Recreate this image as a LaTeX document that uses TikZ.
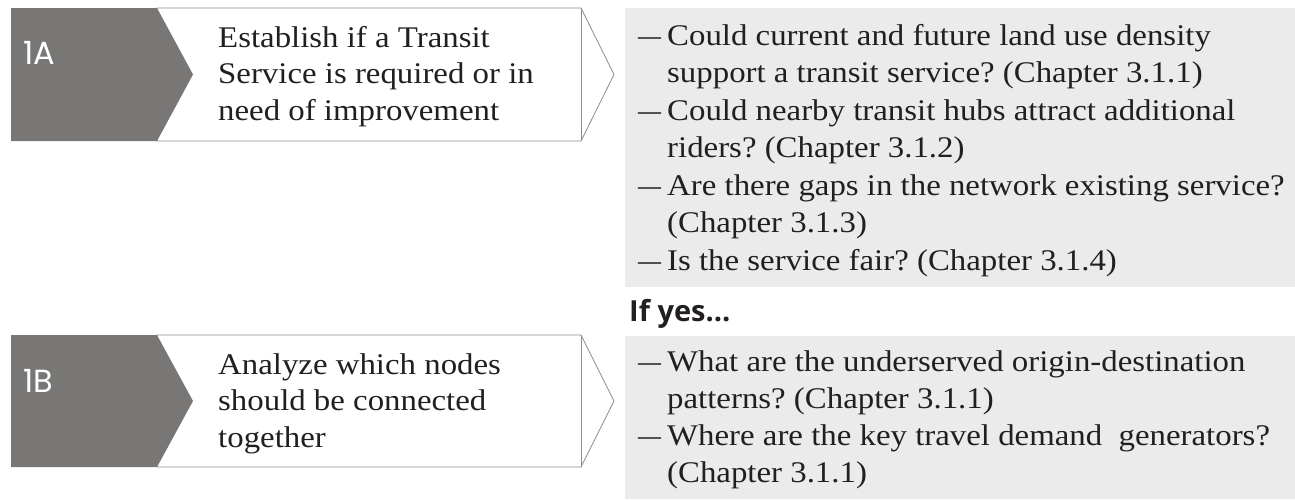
\documentclass[tikz,border=0pt]{standalone}
\usepackage{fontspec}
\usepackage{graphicx}
\setmainfont{Liberation Serif}[FakeStretch=1.095]
\newfontfamily\lblfont{Poppins}
\newfontfamily\yesfont{Open Sans}
\definecolor{darkbox}{HTML}{797775}
\definecolor{panel}{HTML}{EBEBEB}
\definecolor{outline}{HTML}{8C8C8C}
\definecolor{ink}{HTML}{231F20}
\frenchspacing
\newcommand{\qdash}{\makebox[29pt][l]{\scalebox{0.7}[1]{—}}}
\tikzset{
  txt/.style={inner sep=0pt, anchor=base west, text=ink, font=\fontsize{30}{37.5}\selectfont},
  lbl/.style={inner sep=0pt, anchor=base west, text=white, font=\lblfont\fontsize{32}{38}\selectfont},
  yes/.style={inner sep=0pt, anchor=base west, text=ink, font=\yesfont\bfseries\fontsize{29}{36}\selectfont},
  whitearrow/.style={fill=white, draw=outline, line width=0.8pt},
  darkarrow/.style={fill=darkbox, draw=none},
  panelbox/.style={fill=panel, draw=none}
}
\begin{document}
\begin{tikzpicture}[x=1pt,y=-1pt]
\useasboundingbox (0,0) rectangle (1295,499);
% panels
\fill[panelbox] (625,8) rectangle (1295,287);
\fill[panelbox] (625,336) rectangle (1295,499);
% step A
\draw[whitearrow] (157,8) -- (581,8) -- (614,74.5) -- (581,141) -- (157,141) -- cycle;
\draw[outline, line width=0.8pt] (581,8) -- (581,141);
\fill[darkarrow] (11,8) -- (157,8) -- (193,74.5) -- (157,141) -- (11,141) -- cycle;
% step B
\draw[whitearrow] (157,335) -- (581,335) -- (614,401) -- (581,467) -- (157,467) -- cycle;
\draw[outline, line width=0.8pt] (581,335) -- (581,467);
\fill[darkarrow] (11,335) -- (157,335) -- (193,401) -- (157,467) -- (11,467) -- cycle;
% labels
\node[lbl] (la) at (23,64) {1A};
\node[lbl] (lb) at (23,392) {1B};
\node[txt] (a1) at (218,47) {Establish if a Transit};
\node[txt] (a2) at (218,83.5) {Service is required or in};
\node[txt] (a3) at (218,120) {need of improvement};
\node[txt] (b1) at (218,374) {Analyze which nodes};
\node[txt] (b2) at (218,410.5) {should be connected};
\node[txt] (b3) at (218,447) {together};
% panel 1
\node[txt] (p1) at (638,45) {\qdash Could current and future land use density};
\node[txt] (p2) at (667,82.5) {support a transit service? (Chapter 3.1.1)};
\node[txt] (p3) at (638,120) {\qdash Could nearby transit hubs attract additional};
\node[txt] (p4) at (667,157.5) {riders? (Chapter 3.1.2)};
\node[txt] (p5) at (638,195) {\qdash Are there gaps in the network existing service?};
\node[txt] (p6) at (667,232.5) {(Chapter 3.1.3)};
\node[txt] (p7) at (638,270) {\qdash Is the service fair? (Chapter 3.1.4)};
% if yes
\node[yes] (y) at (629,321) {If yes…};
% panel 2
\node[txt] (q1) at (638,371) {\qdash What are the underserved origin-destination};
\node[txt] (q2) at (667,408) {patterns? (Chapter 3.1.1)};
\node[txt] (q3) at (638,445) {\qdash Where are the key travel demand\ \ generators?};
\node[txt] (q4) at (667,482) {(Chapter 3.1.1)};
\end{tikzpicture}
\end{document}
